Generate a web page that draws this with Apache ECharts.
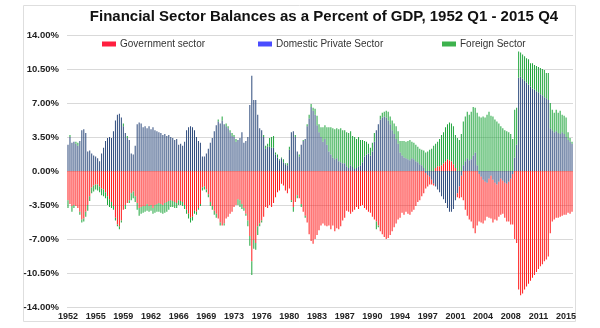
<!DOCTYPE html>
<html>
<head>
<meta charset="utf-8">
<script src="https://cdn.jsdelivr.net/npm/echarts@6/dist/echarts.min.js"></script>
<style>
  html, body { margin: 0; padding: 0; background: #ffffff; }
  #chart { width: 600px; height: 328px; }
</style>
</head>
<body>
<div id="chart"></div>
<script>
// Quarterly sector balances, percent of GDP, 1952 Q1 .. 2015 Q4
const firstYear = 1952;
const lastYear = 2015;
const quarters = [];
for (let y = firstYear; y <= lastYear; y++) {
  for (let q = 1; q <= 4; q++) quarters.push(y + ' Q' + q);
}

// one row per year, Q1..Q4
const domesticPrivate = [
  2.7, 3.5, 2.9, 3.0,   // 1952
  2.8, 2.6, 3.1, 4.2,
  4.3, 3.9, 2.0, 2.1,
  1.8, 1.6, 1.5, 1.3,
  1.0, 1.8, 2.4, 3.1,   // 1956
  3.4, 3.5, 3.4, 4.1,
  5.2, 5.8, 5.9, 5.5,
  4.6, 3.9, 3.4, 3.2,
  1.8, 1.7, 2.6, 4.8,   // 1960
  5.0, 4.9, 4.5, 4.6,
  4.4, 4.6, 4.3, 4.5,
  4.2, 4.1, 4.0, 3.9,
  3.7, 3.8, 3.6, 3.7,   // 1964
  3.5, 3.4, 3.2, 3.3,
  2.7, 2.8, 2.6, 3.0,
  4.2, 4.5, 4.6, 4.5,
  4.2, 3.5, 3.1, 2.9,   // 1968
  1.5, 1.5, 1.8, 2.3,
  2.9, 3.4, 4.1, 4.7,
  5.1, 4.9, 5.2, 4.8,
  4.6, 4.4, 4.0, 3.6,   // 1972
  3.5, 3.0, 3.2, 3.4,
  4.0, 2.9, 3.1, 3.5,
  6.8, 9.8, 7.3, 7.3,
  5.8, 4.4, 4.2, 3.5,   // 1976
  2.3, 2.5, 2.5, 2.4,
  2.4, 1.7, 1.4, 1.1,
  1.3, 0.9, 0.7, 0.6,
  2.2, 4.0, 4.1, 3.5,   // 1980
  2.0, 1.5, 2.7, 3.1,
  3.3, 4.6, 5.4, 6.6,
  6.2, 5.8, 4.7, 4.0,
  3.5, 3.0, 3.3, 2.7,   // 1984
  2.0, 1.7, 1.4, 1.2,
  1.3, 1.0, 0.9, 0.8,
  0.8, 0.5, 0.3, 0.6,
  0.4, 0.2, 0.3, 0.5,   // 1988
  0.6, 0.9, 1.5, 1.7,
  1.8, 1.6, 2.0, 3.0,
  4.2, 4.8, 5.3, 5.5,
  5.6, 5.5, 5.2, 4.8,   // 1992
  4.2, 3.8, 3.3, 2.8,
  1.9, 1.6, 1.4, 1.3,
  1.2, 1.1, 1.3, 1.2,
  1.0, 0.9, 0.7, 0.6,   // 1996
  0.3, -0.2, -0.4, -0.6,
  -0.9, -1.3, -1.6, -1.9,
  -2.2, -2.6, -2.9, -3.3,
  -3.8, -4.2, -4.2, -3.9, // 2000
  -3.0, -2.3, -1.6, -0.5,
  0.6, 1.0, 1.3, 1.1,
  1.2, 1.6, 1.9, 0.6,
  -0.3, -0.6, -0.9, -1.1, // 2004
  -1.2, -0.8, -0.5, -0.9,
  -1.2, -1.4, -1.1, -0.8,
  -1.0, -1.2, -1.3, -1.1,
  -0.8, -0.3, 1.4, 2.7,   // 2008
  9.6, 9.7, 9.5, 9.3,
  9.1, 8.9, 8.7, 8.5,
  8.4, 8.2, 8.1, 7.9,
  7.8, 7.6, 7.5, 7.3,   // 2012
  4.4, 4.2, 4.0, 4.1,
  3.9, 3.8, 4.0, 3.8,
  3.5, 3.2, 3.0, 2.8
];

const government = [
  -3.0, -3.4, -3.6, -3.5, // 1952
  -3.6, -3.8, -4.2, -5.0,
  -4.9, -4.2, -3.5, -2.6,
  -1.7, -1.5, -1.4, -1.4,
  -1.6, -1.8, -1.9, -2.2, // 1956
  -2.6, -2.9, -3.2, -3.6,
  -4.8, -5.5, -5.7, -5.1,
  -4.0, -3.5, -3.3, -3.0,
  -2.3, -2.1, -2.6, -3.3, // 1960
  -3.8, -3.7, -3.6, -3.6,
  -3.4, -3.6, -3.5, -3.8,
  -3.5, -3.4, -3.3, -3.4,
  -3.5, -3.3, -3.2, -3.1, // 1964
  -3.0, -3.1, -3.2, -3.3,
  -3.0, -3.1, -3.2, -3.5,
  -4.0, -4.4, -4.8, -4.7,
  -4.1, -4.2, -3.8, -3.4, // 1968
  -1.7, -1.6, -1.9, -2.4,
  -3.2, -3.6, -4.1, -4.4,
  -4.9, -5.3, -5.6, -5.4,
  -4.9, -4.7, -4.4, -4.2, // 1972
  -3.7, -3.5, -2.9, -3.0,
  -3.4, -3.8, -4.4, -5.1,
  -6.7, -9.3, -7.1, -7.4,
  -5.7, -5.4, -5.1, -4.7, // 1976
  -3.7, -3.8, -3.5, -3.7,
  -3.3, -2.7, -2.2, -2.0,
  -1.3, -1.5, -2.0, -2.3,
  -1.8, -3.0, -3.7, -3.2, // 1980
  -2.5, -2.8, -3.4, -4.2,
  -4.6, -5.3, -6.5, -7.2,
  -7.5, -7.0, -6.6, -6.1,
  -5.6, -5.4, -5.6, -5.7, // 1984
  -5.6, -6.0, -5.6, -6.2,
  -5.9, -6.0, -5.7, -5.1,
  -4.8, -4.1, -4.2, -4.4,
  -4.2, -4.0, -3.7, -3.9, // 1988
  -3.6, -3.5, -3.8, -4.0,
  -4.2, -4.3, -4.7, -5.0,
  -5.2, -5.6, -6.2, -6.5,
  -6.8, -7.0, -6.9, -6.6, // 1992
  -6.2, -5.8, -5.4, -5.0,
  -4.8, -4.3, -4.5, -4.2,
  -4.4, -4.5, -4.2, -4.0,
  -3.6, -3.2, -3.0, -2.6, // 1996
  -2.3, -1.6, -1.2, -0.8,
  -0.5, -0.2, 0.3, 0.5,
  0.5, 0.6, 0.8, 1.0,
  1.2, 1.1, 1.0, 0.7,     // 2000
  0.3, -0.4, -1.2, -2.2,
  -3.0, -4.0, -4.6, -5.0,
  -5.2, -5.9, -6.4, -5.6,
  -4.9, -4.7, -4.5, -4.0, // 2004
  -3.5, -4.0, -4.4, -4.4,
  -3.8, -3.7, -3.6, -3.7,
  -3.4, -3.6, -3.9, -4.1,
  -4.7, -5.2, -7.0, -7.4, // 2008
  -12.2, -12.8, -12.6, -12.2,
  -11.9, -11.6, -11.3, -11.0,
  -10.7, -10.4, -10.1, -9.8,
  -9.6, -9.3, -9.1, -8.8, // 2012
  -6.4, -5.2, -5.0, -4.8,
  -4.8, -4.7, -4.6, -4.5,
  -4.5, -4.3, -4.4, -4.2
];

const foreign = [
  -0.8, 0.2, -0.6, -0.3,  // 1952
  0.2, 0.3, -0.3, -0.3,
  -0.3, -0.5, -0.6, -0.5,
  -0.6, -0.6, -0.5, -0.6,
  -0.6, -0.7, -0.7, -0.6, // 1956
  -0.9, -0.8, -0.6, -0.4,
  -0.3, -0.2, -0.3, -0.2,
  0.3, -0.4, 0.2, -0.3,
  -0.7, -0.7, -0.6, -0.7, // 1960
  -0.8, -0.7, -0.7, -0.6,
  -0.7, -0.6, -0.6, -0.6,
  -0.8, -0.8, -0.9, -0.9,
  -0.9, -1.0, -1.0, -0.9, // 1964
  -0.7, -0.6, -0.6, -0.5,
  -0.5, -0.4, -0.4, -0.4,
  -0.4, -0.5, -0.5, -0.4,
  -0.3, -0.3, -0.2, -0.2, // 1968
  -0.3, -0.3, -0.3, -0.3,
  -0.4, -0.4, -0.4, -0.4,
  0.2, -0.3, 0.4, -0.2,
  0.3, 0.2, 0.2, 0.3,     // 1972
  0.2, 0.3, -0.6, -0.7,
  -0.5, -0.3, -0.2, -0.6,
  -1.0, -1.4, -0.9, -0.7,
  -0.9, -0.3, -0.2, 0.2,  // 1976
  0.3, 0.3, 0.9, 1.1,
  1.2, 0.2, 0.3, 0.1,
  0.1, 0.3, 0.1, 0.2,
  0.3, -0.2, -0.5, 0.2,   // 1980
  -0.3, 0.2, -0.3, 0.1,
  -0.2, 0.2, 0.4, 0.3,
  0.3, 0.6, 1.0, 0.8,
  1.0, 1.5, 1.4, 1.8,     // 1984
  2.5, 2.8, 3.0, 3.1,
  3.1, 3.3, 3.5, 3.4,
  3.4, 3.5, 3.6, 3.5,
  3.2, 3.3, 3.0, 3.0,     // 1988
  2.6, 2.3, 1.6, 1.3,
  1.0, 0.8, 0.9, 0.9,
  -0.8, -0.2, 0.4, 0.5,
  0.5, 0.7, 0.9, 0.8,     // 1992
  1.0, 1.1, 1.3, 1.3,
  1.2, 1.5, 1.7, 1.7,
  1.9, 2.1, 1.7, 1.7,
  1.7, 1.6, 1.6, 1.6,     // 1996
  1.8, 1.9, 2.0, 2.2,
  2.3, 2.6, 2.5, 2.5,
  2.8, 3.1, 3.2, 3.5,
  3.6, 3.9, 3.9, 3.9,     // 2000
  3.4, 3.4, 3.2, 3.8,
  4.5, 4.6, 4.8, 4.7,
  4.9, 5.0, 4.6, 5.4,
  5.6, 5.5, 5.6, 5.5,     // 2004
  5.8, 6.1, 5.7, 5.6,
  5.3, 5.1, 4.9, 4.6,
  4.4, 4.2, 4.1, 4.0,
  3.8, 3.3, 4.9, 3.8,     // 2008
  2.7, 2.5, 2.5, 2.5,
  2.5, 2.6, 2.4, 2.6,
  2.5, 2.6, 2.6, 2.7,
  2.7, 2.8, 2.6, 2.8,     // 2012
  2.6, 2.1, 2.0, 2.2,
  2.1, 2.4, 1.8, 1.9,
  2.0, 0.8, 0.4, 0.2
];

// value axis ticks
const yMin = -14, yMax = 14, yStep = 3.5;
// one year label every 14 quarters
const xLabelEvery = 14;

const seriesInfo = [
  { name: 'Government sector',       data: government,      bar: '#ff1a1a', key: '#ff1f3f' },
  { name: 'Domestic Private Sector', data: domesticPrivate, bar: '#2d4a7c', key: '#4a4cff' },
  { name: 'Foreign Sector',          data: foreign,         bar: '#1fa53c', key: '#3db24d' }
];
// stacking order from the zero line outward
const stackOrder = ['Domestic Private Sector', 'Government sector', 'Foreign Sector'];

const legendLeft = [102, 258, 442];
const font = '"Liberation Sans", Arial, Helvetica, sans-serif';

const chart = echarts.init(document.getElementById('chart'), null, { renderer: 'canvas' });

chart.setOption({
  animation: false,
  backgroundColor: '#ffffff',
  textStyle: { fontFamily: font },
  graphic: [
    {
      type: 'rect', z: -10, silent: true,
      shape: { x: 23.5, y: 5.5, width: 552, height: 316 },
      style: { fill: null, stroke: '#dedede', lineWidth: 1 }
    },
    {
      type: 'text', silent: true,
      x: 324, y: 17,
      style: {
        text: 'Financial Sector Balances as a Percent of GDP, 1952 Q1 - 2015 Q4',
        font: 'bold 15px ' + font,
        fill: '#111111', align: 'center', verticalAlign: 'middle'
      }
    }
  ],
  legend: seriesInfo.map((s, i) => ({
    data: [{ name: s.name, itemStyle: { color: s.key } }],
    left: legendLeft[i], top: 39,
    icon: 'rect', itemWidth: 14, itemHeight: 5, itemGap: 0,
    padding: 0, selectedMode: false,
    textStyle: { fontSize: 10, color: '#333333', fontFamily: font, padding: [0, 0, 0, -1] }
  })),
  grid: { left: 67, right: 27, top: 35, bottom: 21 },
  xAxis: {
    type: 'category',
    data: quarters,
    boundaryGap: true,
    axisLine: { show: false },
    axisTick: { show: false },
    axisLabel: {
      interval: xLabelEvery - 1,
      formatter: v => v.slice(0, 4),
      fontSize: 9, fontWeight: 'bold', color: '#222222', margin: 5, fontFamily: font
    },
    splitLine: { show: false }
  },
  yAxis: {
    type: 'value',
    min: yMin, max: yMax, interval: yStep,
    axisLine: { show: false },
    axisTick: { show: false },
    axisLabel: {
      formatter: v => v.toFixed(2) + '%',
      fontSize: 9.5, fontWeight: 'bold', color: '#222222', margin: 8, fontFamily: font
    },
    splitLine: { lineStyle: { color: '#d9d9d9', width: 1 } }
  },
  series: stackOrder.map(name => {
    const s = seriesInfo.find(d => d.name === name);
    return {
      name: s.name,
      type: 'bar',
      stack: 'balance',
      data: s.data,
      barWidth: 1,
      itemStyle: { color: s.bar },
      emphasis: { disabled: true }
    };
  })
});
</script>
</body>
</html>
